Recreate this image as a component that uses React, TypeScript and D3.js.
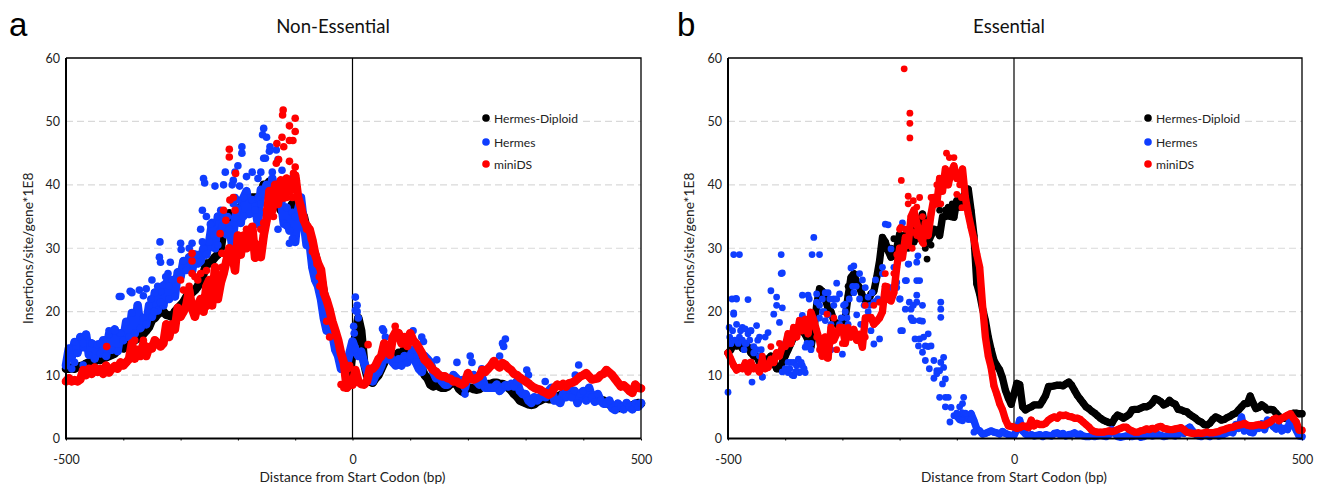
import React, {useEffect, useRef} from 'react'
import * as d3 from 'd3'

// main trace of every series, read at 5 bp steps from -500 to 500
const positions = d3.range(-500, 501, 5)

const aDiploid = [
  11,11,11.2,11,11.3,11.4,11.5,11.8,12,12,
  12.2,12.4,12.4,12.6,12.8,13,13.2,13.4,14,14.5,
  14.2,14.6,15,15.2,15.5,15.8,16,16.5,17,17.6,
  18.7,19,19.6,20,20,19.5,19.4,19.2,20,20.5,
  21,21.5,22.3,22.6,23,23.4,24,25,26,27.6,
  27.6,28,28.6,29,30,33,34,35.5,34,35,
  36,36.5,37,37.2,37.5,38,38,37.6,38.5,40,
  40,40.5,39,38,37,36,35.5,35,36,37,
  37,37,36,35,33,31.5,30,29,27,25.5,
  23,21,19.5,18,16.5,14.5,12.5,11,10,9.5,
  14,16,19,17,12,10,9,8.8,9.5,10,
  11,12,13,13,12.5,13,13.5,13.5,14,14,
  14,13.5,13,12,11,10,9.5,8.5,8.2,8.5,
  8.2,8,8,8.2,8.6,8.8,8.6,7.8,7.4,7.6,
  8,8,7.8,7.7,7.8,8.2,8.2,8.6,8.6,8.8,
  8.8,8.6,8.6,8.4,8,7.6,7,6.6,6,5.8,
  5.6,5.4,5.3,5.4,5.8,6,6.2,6.4,6.2,6.2,
  6.4,6.6,6.8,7,6.8,7,7,7.2,7,7,
  7.2,7,6.8,6.6,6.4,6.2,6,6,5.6,5.4,
  5,5,4.8,4.8,5,5,5,5.2,5.4,5.6,
  5.5,
]
const aHermes = [
  11.5,14.2,12.8,15.2,13.5,16,14.4,16.4,13.2,15,
  12.6,14.8,13.4,15.5,13,16.4,14,17.2,13.8,16.6,
  15.5,18.4,16,19.8,16.6,21,17.4,19,18,21,
  19.2,23,20.2,23.2,21,24.5,22,25,22.4,26.2,
  25.5,28,27,28.6,26.4,29,27.6,28,30,29,
  31,34,30,35,33,35.2,32.2,33.6,30.4,34.8,
  36.2,34,38,39,35.4,37.6,36.6,33.8,39.2,38.6,
  40,37,41,38.6,40,37.8,34,36.4,32.8,35.6,
  31,36,38,34,30.5,31,27,25,24,22,
  19,17,18,16.5,14,13,11,12,11.5,13.5,
  15.3,14,13,13.7,12,10.6,9.5,9,10,10.5,
  11.5,13,12.5,13,12,11.5,12.5,11.5,13,12,
  13,14,12,11,10.5,13,12.5,12,10.5,9.5,
  10,9,8.5,8.5,9,10,9.5,9,9.2,8,
  10,9.5,10,9,8.5,9.5,8,8,8,8,
  8.5,7.5,8,8.4,8.2,8.6,8.2,9,7.5,7,
  7,6,5.6,6.5,6,6.5,7,6.5,7.5,8,
  6,6,5.6,7,6.5,8,6.5,7.5,5.6,7,
  7.5,6,8,6.5,5.8,7,6,5.5,5.5,6,
  4.8,4.5,5.5,5,4.6,5.6,5,4.6,5.5,5,
  5.6,
]
const aMiniDS = [
  9,9.5,9,9.2,9,9.3,10.8,10,11,10.2,
  11.2,10.5,11,10.2,11.5,10.4,11,11.4,11,12,
  11.5,12,12.5,15,12.6,14,13,15,13,14.4,
  14.2,15.5,15,14.5,15,18,16,18,17.2,20.6,
  19.2,20,21,23.4,20.5,19.2,21,22,20,24,
  25,21,27,22,24.5,26,28,30,29.2,26.5,
  32,29,32,30,31.5,33.4,28.5,30.5,28.6,32,
  34.4,39,36,40,37,40.7,38,41,39,39.5,
  41.5,38,36.5,34.4,33.4,33,31.3,29,27.6,26.6,
  23,21.8,20.3,18.4,17,15.5,13.4,11.9,8,8.5,
  8.5,10.8,9,8.6,8.5,9,11,11,11.5,12.5,
  13,15,14,13.2,16,16.8,16.6,15,16,14.6,
  16.6,15.5,15,14.3,13.5,12.4,12,11.4,10.8,10.5,
  10,9.8,9.8,9.5,9.4,9,9,8.7,8.5,8.8,
  10.3,9.4,9.3,9.5,9.8,10.8,10.5,11,11.5,12.2,
  11.6,11.2,11.9,11.6,11.1,10.8,10.2,10,9.6,9.3,
  9,8.7,8.3,8,7.8,7.7,7.4,7.2,6.9,7.2,
  8,8.5,8.2,8.6,8.2,8.7,8.8,9,9.4,9.8,
  10,10.3,9.8,9.3,9.4,9.5,10,10.2,10.8,10.4,
  10,9.4,8.8,8.2,8.4,8,7.5,7.2,8.5,8,
  7.9,
]
const aHermesOff = [
  [-260,41],[-258,40.3],[-222,42],[-208,40.7],[-193,46],[-193,45],[-205,42],[-200,43],[-155,48.9],[-157,47.9],
  [-150,47.5],[-144,46],[-145,45.3],[-133,45.5],[-155,44.2],[-152,44.2],[-130,44],[-123,42.3],[-240,39.8],[-225,40],
  [-210,40],[-197,39.8],[-205,38],[-185,41.3],[-175,42],[-160,42],[-165,41],[-140,42],[-105,41],[-90,36],
  [-120,33.8],[-130,33],[-105,31.5],[-110,30.8],[-115,33.5],[-100,35],[-95,36],[-336,31],[-337,28.6],[-335,27.8],
  [-300,30.8],[-299,29.8],[-318,27.8],[-322,26],[-326,25.5],[-350,25],[-360,23.6],[-372,23.4],[-407,22.4],[-404,22.4],
  [-388,23.2],[-385,23],[-365,22.5],[-345,23],[-340,24],[-330,24.2],[-320,24],[-346,20],[-352,22],[-335,21.5],
  [-280,30.8],[-285,30],[-295,28],[-290,26.5],[-270,29],[-262,36],[-265,33],[-262,31],[-255,35],[-248,33.8],
  [-242,32],[-235,30.5],[-230,36],[-228,33.5],[-218,35],[-215,33],[-208,37],[-200,37.6],[-190,35],[-175,33],
  [-170,36],[-165,38],[-160,37],[-490,11],[-485,12],[-470,11.6],[5,22.3],[8,21],[5,20.2],[8,20],[10,19],[2,17.7],[3,16.6],
  [54,17],[57,16],[52,17.3],[105,17],[102,16],[120,16],[123,15.3],[146,12.4],[181,12],[204,13],[207,12],[224,11],
  [195,7],[262,14.5],[260,15],[265,15.7],[255,13],[302,10.8],[305,10],[334,9],[392,11.6],[386,10],[-470,15],[-440,15],[-425,17],[-415,17],
]
const aMiniDSOff = [
  [-121,51.8],[-122,51],[-100,50.5],[-110,49.3],[-100,48.4],[-123,47.5],[-132,46.5],[-120,46],[-110,47],[-104,47],
  [-129,44],[-133,43.4],[-110,43.7],[-100,42.8],[-103,41.8],[-98,40.7],[-215,45.6],[-215,44.4],[-204,41.8],[-208,38],
  [-214,37.6],[-205,36],[-225,36],[-221,34.4],[-228,29.2],[-231,32.3],[-280,29.2],[-280,28],[-280,26],[-270,25],
  [-270,21],[-255,20.8],[-250,21.3],[-245,21],[-295,23.4],[-300,25],[-285,24],[-275,25.5],[-265,26],[-255,26.5],
  [-240,24],[-228,27],[-140,38],[-150,36],[-145,38.5],[-138,35],[-135,38],[-125,38],[-115,38],[-110,39.5],
  [-105,38],[-95,38],[-185,33],[-175,33],[-168,30.5],[-195,31],[-190,32],[-160,33],[-155,34],[-429,14.5],
  [-85,35],[-80,33],[-78,33.5],[-72,31.5],[-70,29.5],[-62,27.5],[-58,25.5],[-57,24],[-45,18.5],[-40,16],
  [-20,8.5],[-15,8],[-8,11],[-5,11.5],[27,14.8],[74,17.7],[-380,15.5],[-365,15.5],
]

const bDiploid = [
  13.5,14,15,14.6,15,14.2,15,14.4,13.5,13,
  13,12,12.2,12.5,12.5,13,12,11,11,12,
  13,14,15,16,16.6,17,17,16.4,15.5,14.4,
  17,21,23.6,23.2,22,20.5,20,18.6,18,17.8,
  18.5,19,22.5,25.4,26,24.5,23.8,22.5,21.7,21.5,
  22.8,23.2,25.4,28,31.7,31,29.6,28.6,28.8,30,
  32.2,31,32,32.8,33,31,33,34,35.4,33,
  31,32,33,32.8,32,34.9,35,36.4,35,34.9,
  37.5,36.5,38,38.8,39.3,35.9,32,24.4,22.8,20.5,
  18.6,16,14,12.3,11.5,10.8,9.5,7.6,6.4,5.4,
  7,8.7,8.5,5,4.5,4.8,5,5.3,5.3,5.3,
  6,6.8,8.2,8.2,8.3,8.4,8.4,8.3,8.6,8.9,
  8.4,7.6,6.8,6.2,5.6,5,4.7,4.3,4,3.6,
  3.2,2.9,2.7,2.5,2.4,3.2,3.7,3.5,3.2,3.5,
  3.8,4.5,4.6,4.6,4.8,5,5,5.2,5.6,6.3,
  6.1,5.8,5.3,5.5,6,5.6,5.4,4.6,4.5,4.3,
  4.2,3.8,3.5,3.2,2.8,2.6,2.2,2.1,2.4,3,
  3.4,3.2,2.9,3,3.3,3.5,3.8,4,4.5,5,
  5.5,5.5,6.7,5.6,4.7,4.9,5.3,5,4.5,4.6,
  4.5,4,3.5,3.2,3.2,3.4,3.6,4,4,3.9,
  3.9,
]
const bHermes = [
  7.3,15,19.6,22,29,17.5,15,21.9,17,14.5,
  17.8,13,9.7,16,16.7,23.3,19.6,22.3,18.3,20.6,
  15,10.4,12,9.9,11.5,10.4,19.4,14.4,22.6,14,
  31.7,22.8,29,20,18.6,23,14,22,24.5,22.8,
  13.3,21.2,18,17,27.2,19.5,26,25,23.8,22.3,
  17,14.9,21.7,15.7,26,33.8,33.7,29.9,27,23.8,
  22,17,24.9,27.5,20.4,18.6,21.5,15.7,21,14.6,
  16.5,14.6,12.3,10.2,10.7,8.6,6.5,6.5,4.9,3.6,
  3.5,3,4,3.5,3.5,3.9,2.8,1.5,1.2,0.7,
  0.8,1,1.2,1,0.9,0.7,1.1,0.8,0.6,0.5,
  0.5,1.4,2.9,1.2,0.7,0.5,0.6,0.4,0.5,0.6,
  0.3,0.6,0.5,0.4,0.8,0.9,0.6,0.8,0.4,0.6,
  0.7,0.9,0.6,0.7,0.4,0.3,0.3,0.4,0.3,0.4,
  0.5,0.4,0.3,0.6,1.4,0.8,0.3,0.2,0.3,0.4,
  0.4,0.3,0.4,0.5,0.2,0.3,0.5,0.6,0.4,0.5,
  0.6,0.5,0.3,0.4,0.6,0.5,0.4,0.6,1,0.8,
  1.5,1.8,1.2,0.7,0.4,0.3,0.6,0.5,0.3,0.6,
  0.7,0.4,0.5,0.7,0.9,1.1,0.9,2.2,1.6,3.4,
  1.2,1.4,1,0.9,1.8,1.6,2.3,1.4,2.9,2.5,
  1.9,1.5,2,1.2,1.6,1.4,3.2,2.2,1.3,0.4,
  0.3,
]
const bMiniDS = [
  13.5,12.5,11.5,10.8,11.2,11,11.8,10.5,12,11,
  11.2,10.5,12.5,11,11.2,12.5,12,13.5,13,14.5,
  14.5,16.5,15,17.5,16,18.6,17,18.8,16.5,19.9,
  18.6,17,15.5,13,16,12.7,17.5,15.5,16.5,17.5,
  17.5,15,17.3,16,17.2,15.5,16,14.4,19,19,
  19.1,18,18.5,19,20,24,22,21.7,23,27,
  30,28.5,31.7,30.5,35,36,34,32,31,34,
  32,35.4,38,37,41,39,42.5,40,42,43,
  41,41,42.5,38,35.4,33.3,31.4,29,27,21,
  16,13,11.2,8.3,7,5.5,4.5,3,2,1.9,
  1.8,1.6,1.7,2,1.9,1.7,2.9,2,2.4,2.2,
  2.2,2.4,2.9,3.2,3.4,3.2,3.7,3.6,3.7,3.5,
  3.4,3.2,3.2,3,2.6,2.2,1.8,1.3,1.1,1,
  1,1,1.1,1.2,1.1,1.2,1.4,1.6,1.8,1.8,
  1.4,1.2,1,1,1.2,1.3,1.5,1.4,1.6,1.5,
  1.8,1.9,1.6,1.5,1.4,1.4,1.5,1.6,1.7,1.4,
  1,0.9,0.8,0.8,0.9,0.8,0.9,1,0.9,0.9,
  1,1.1,1.3,1.4,1.6,1.7,1.8,2,2.1,2.2,
  2.4,2.1,2,2,2.1,2.2,2.1,2.1,2.4,2.6,
  3,3.2,2.8,3.2,3.4,3.7,3.9,3.2,2.6,1.3,
  1.3,
]
const bDiploidOff = [
  [-152,28.3],[-155,30],[-160,31],[-165,31.5],[-130,36],[-125,35],[-120,36],[-112,35],[-108,37],[-145,30.5],
  [-90,37],[-75,35],[-232,30],[-225,30],[-215,30],[-210,31.5],[-195,31.5],[-185,30],[-175,31],[-290,24],
]
const bHermesOff = [
  [-490,29],[-493,22],[-486,22.1],[-490,19.8],[-498,17.5],[-495,15],[-485,18],[-480,16],[-478,17],[-470,17.3],
  [-475,15.5],[-465,16.5],[-460,17],[-458,8.9],[-450,14],[-445,16],[-440,9.7],[-407,29],[-407,26],[-405,26.1],
  [-415,21],[-405,10.5],[-400,11],[-395,12],[-388,10],[-385,12],[-380,11.5],[-375,10.5],[-370,11.5],[-365,10.4],
  [-362,15],[-353,29],[-370,22.6],[-358,22],[-345,21.5],[-340,19],[-335,22],[-330,23],[-325,19.5],[-320,18],
  [-315,21],[-310,22],[-305,18],[-295,20],[-285,26.9],[-282,24],[-276,24],[-270,22],[-262,21],[-255,20],
  [-245,21.5],[-238,22],[-230,27],[-225,24],[-215,23.8],[-205,24.6],[-195,34],[-198,17],[-199,22],[-190,20.4],
  [-188,24.9],[-184,27.5],[-178,18.6],[-183,21.5],[-176,21],[-170,22.6],[-170,24.9],[-165,24.9],[-168,28.8],[-170,27.8],
  [-128,21.5],[-128,20.4],[-128,19.1],[-180,19],[-165,18.6],[-160,18.5],[-173,15.7],[-167,14.6],[-158,16],[-150,14.5],
  [-160,13.6],[-123,12.8],[-123,11.2],[-128,12],[-155,12.3],[-148,11],[-135,10.7],[-120,9.4],[-140,9.5],[-130,6.5],
  [-95,5],[-88,6.5],[-90,5.5],[-120,5],[-112,2.6],[-100,4],[-90,2.8],[-85,4],[-80,3],[-75,3],[-70,1],
  [-497,16],[-492,17],[-488,15.5],[-482,15],[-472,14],[-468,15],[-462,15.5],[-455,13.5],[-448,15.5],[-442,14],
  [-392,11],[-382,10.5],[-377,12.5],[-372,12],[-367,11],[-360,14.5],[-355,15],[-340,21],[-332,20],[-322,22],
  [-302,19],[-298,21],[-292,19],[-288,22],[-280,23],[-268,18],[-258,19],[-252,21],[-248,23],[-242,25],
]
const bMiniDSOff = [
  [-192,58.3],[-182,51.3],[-182,49.7],[-182,47.4],[-197,40.7],[-185,38.2],[-185,37],[-176,37.5],[-165,38],[-170,36.5],
  [-173,34],[-158,30.7],[-170,32],[-160,35],[-175,32.5],[-182,33],[-190,33],[-198,33.3],[-178,30],[-196,30],
  [-145,38],[-135,40],[-125,41],[-118,45],[-113,44.3],[-105,44.3],[-100,38.5],[-95,40],[-92,38],[-85,38],
  [-137,38],[-128,37],[-91,36.4],[-336,13],[-327,12.7],[-340,14],[-310,14],[-320,15.2],[-345,16],[-300,15],
  [-260,16],[-270,16.5],[-290,17.5],[-315,19],[-327,19.6],[-355,19],[-375,18],[-385,17],[-395,16],[-410,15],
  [-425,14.5],[-440,13],[-460,12],[-470,12],[-480,11],[-490,11.5],[-245,21],[-235,21.5],[-222,24],[-225,26],[-210,26],
  [-205,29],[-200,33],[-260,21],
]

const yTicks = [0, 10, 20, 30, 40, 50, 60]
const xLabels = [-500, 0, 500]
const seriesNames = ['Hermes-Diploid', 'Hermes', 'miniDS']
const seriesColors = ['#000000', '#0f3dff', '#ff0000']

// the dots of a trace sit so close in the original that they read as a band,
// ribbonFrom is where that band starts for each series
const panels = [
  {letter: 'a', letterX: 9, title: 'Non-Essential', titleX: 333, left: 66, zero: 352.5, right: 641, yTitleX: 33, legendX: 486, r: 3.8, ribbon: 8.6,
    main: [aDiploid, aHermes, aMiniDS], off: [[], aHermesOff, aMiniDSOff], ribbonFrom: [-500, -500, -500]},
  {letter: 'b', letterX: 677, title: 'Essential', titleX: 1009, left: 728, zero: 1014, right: 1302, yTitleX: 694, legendX: 1148, r: 3.4, ribbon: 7.4,
    main: [bDiploid, bHermes, bMiniDS], off: [bDiploidOff, bHermesOff, bMiniDSOff], ribbonFrom: [-500, -100, -500]},
]

const App = () => {
  const ref = useRef<SVGSVGElement>(null)

  useEffect(() => {
    const svg = d3.select(ref.current)
    svg.selectAll('*').remove()
    svg.attr('font-family', 'Lato, sans-serif').attr('fill', '#222')
    const top = 58, bottom = 438.5

    panels.forEach(p => {
      const x = d3.scaleLinear().domain([-500, 0, 500]).range([p.left, p.zero, p.right])
      const y = d3.scaleLinear().domain([0, 60]).range([bottom, top])
      const g = svg.append('g')

      // grid
      g.selectAll('.grid').data(yTicks.slice(1, -1)).join('line')
        .attr('x1', p.left).attr('x2', p.right)
        .attr('y1', d => y(d)).attr('y2', d => y(d))
        .attr('stroke', '#d9d9d9').attr('stroke-width', 1.2).attr('stroke-dasharray', '7 4')

      // legend labels knock the grid line out behind them
      g.append('rect').attr('x', p.legendX + 6).attr('y', y(50) - 8).attr('width', 90).attr('height', 16).attr('fill', '#fff')

      g.append('line').attr('x1', x(0)).attr('x2', x(0)).attr('y1', top).attr('y2', bottom)
        .attr('stroke', '#000').attr('stroke-width', 1.2)

      // points
      p.main.forEach((values, i) => {
        const trace = values.map((v, k) => [positions[k], v])
        const line = d3.line().x(d => x(d[0])).y(d => y(d[1]))
        g.append('path').attr('fill', 'none').attr('stroke', seriesColors[i])
          .attr('stroke-width', p.ribbon).attr('stroke-linejoin', 'round').attr('stroke-linecap', 'round')
          .attr('d', line(trace.filter(d => d[0] >= p.ribbonFrom[i])))
        g.append('g').attr('fill', seriesColors[i]).selectAll('circle').data([...trace, ...p.off[i]]).join('circle')
          .attr('cx', d => x(d[0])).attr('cy', d => y(d[1])).attr('r', p.r)
      })

      // frame
      g.append('path').attr('fill', 'none').attr('stroke', '#000').attr('stroke-width', 1.3)
        .attr('d', `M${p.left},${top}H${p.right}V${bottom}`)
      g.append('path').attr('fill', 'none').attr('stroke', '#000').attr('stroke-width', 2)
        .attr('d', `M${p.left},${top}V${bottom}H${p.right}`)

      // axes
      const xAxis = g.append('g').attr('transform', `translate(0,${bottom})`)
        .call(d3.axisBottom(x).tickValues(d3.range(-500, 501, 100)).tickSize(2)
          .tickFormat(d => (xLabels.includes(+d) ? String(d) : '')).tickPadding(15))
      const yAxis = g.append('g').attr('transform', `translate(${p.left},0)`)
        .call(d3.axisLeft(y).tickValues(yTicks).tickSize(0).tickPadding(6))
      xAxis.select('.domain').remove()
      yAxis.select('.domain').remove()
      xAxis.selectAll('text').attr('font-size', 12.5).attr('font-family', 'Lato, sans-serif').attr('fill', '#222')
      yAxis.selectAll('text').attr('font-size', 12.5).attr('font-family', 'Lato, sans-serif').attr('fill', '#222')

      // titles
      g.append('text').attr('x', p.letterX).attr('y', 36).attr('font-size', 33)
        .attr('font-family', 'Liberation Sans, sans-serif').attr('fill', '#000').text(p.letter)
      g.append('text').attr('x', p.titleX).attr('y', 33).attr('text-anchor', 'middle').attr('font-size', 18.6).attr('fill', '#111').text(p.title)
      g.append('text').attr('x', x(0)).attr('y', 482).attr('text-anchor', 'middle').attr('font-size', 13.7).text('Distance from Start Codon (bp)')
      g.append('text').attr('transform', `translate(${p.yTitleX},${y(30)}) rotate(-90)`).attr('text-anchor', 'middle')
        .attr('font-size', 13.8).text('Insertions/site/gene*1E8')

      // legend
      const legend = g.selectAll('.legend').data(seriesNames).join('g')
        .attr('transform', (d, i) => `translate(${p.legendX},${[118, 142, 164][i]})`)
      legend.append('circle').attr('r', 3.8).attr('fill', (d, i) => seriesColors[i])
      legend.append('text').attr('x', 8).attr('y', 4.5).attr('font-size', 12.1).text(d => d)
    })
  }, [])

  return <svg ref={ref} width={1320} height={484} style={{position: 'absolute', left: 0, top: 0}} />
}

export default App
